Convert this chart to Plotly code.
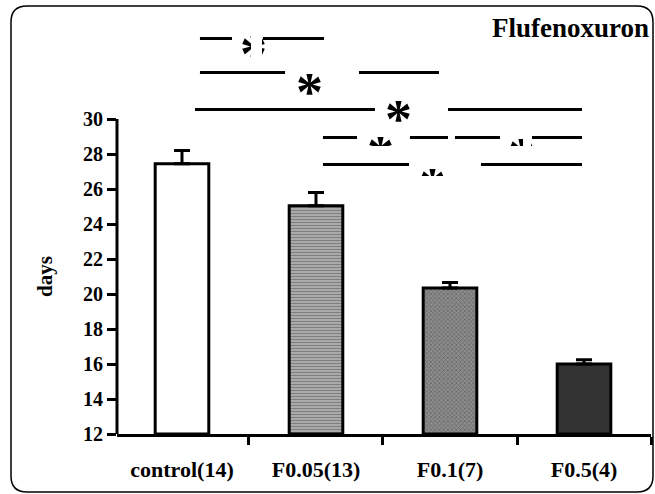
import plotly.graph_objects as go

categories = ["control(14)", "F0.05(13)", "F0.1(7)", "F0.5(4)"]
means = [27.45, 25.05, 20.35, 16.0]
sem = [0.75, 0.75, 0.3, 0.25]
y_ticks = [12, 14, 16, 18, 20, 22, 24, 26, 28, 30]
title_text = "Flufenoxuron"
y_title = "days"

# significance bracket segments: (y level, [(x_start, x_end), ...]) in category-index units
sig_lines = [
    (34.6, [(0.134, 0.373), (0.604, 1.06)]),
    (32.66, [(0.134, 0.769), (1.321, 1.918)]),
    (30.54, [(0.097, 1.44), (1.985, 2.985)]),
    (28.94, [(1.052, 1.306), (1.701, 1.985), (2.037, 2.373), (2.612, 2.985)]),
    (27.4, [(1.052, 1.694), (2.231, 2.985)]),
]
# asterisk marks (x index, y level of glyph centre)
stars = [(0.53, 34.11), (0.948, 31.94), (1.612, 30.4), (1.485, 28.34), (2.53, 28.23), (1.873, 26.51)]

FONT = "Liberation Serif"

fig = go.Figure()
fig.add_trace(go.Bar(
    x=categories, y=[m - 12 for m in means], base=12, width=0.40,
    marker=dict(
        color=["white", "#b8b8b8", "#8e8e8e", "#333333"],
        line=dict(color="black", width=3),
        pattern=dict(shape=["", "-", "x", ""],
                     fgcolor=["white", "#505050", "#3a3a3a", "#333333"],
                     size=[8, 3, 3, 8], solidity=[0.3, 0.5, 0.45, 0.3],
                     fillmode="overlay"),
    ),
    error_y=dict(type="data", symmetric=False, array=sem, arrayminus=[0] * len(sem),
                 color="black", thickness=3, width=8),
))

shapes = []
for yv, segs in sig_lines:
    for x0, x1 in segs:
        shapes.append(dict(type="line", xref="x", yref="y", x0=x0, x1=x1, y0=yv, y1=yv,
                           line=dict(color="black", width=3)))
# y axis line
shapes.append(dict(type="line", xref="paper", yref="y", x0=0, x1=0, y0=11.55, y1=30,
                   line=dict(color="black", width=3)))
# rounded frame
w, h = 534.0, 420.0
px = lambda p: (p - 117) / w
py = lambda p: (434 - p) / h
L, R, T, B, r = 11, 653, 6, 492, 16
path = (f"M {px(L + r)},{py(T)} L {px(R - r)},{py(T)} Q {px(R)},{py(T)} {px(R)},{py(T + r)} "
        f"L {px(R)},{py(B - r)} Q {px(R)},{py(B)} {px(R - r)},{py(B)} "
        f"L {px(L + r)},{py(B)} Q {px(L)},{py(B)} {px(L)},{py(B - r)} "
        f"L {px(L)},{py(T + r)} Q {px(L)},{py(T)} {px(L + r)},{py(T)} Z")
shapes.append(dict(type="path", xref="paper", yref="paper", path=path,
                   line=dict(color="black", width=1.5)))

annotations = []
for sx, sy in stars:
    annotations.append(dict(x=sx, y=sy, xref="x", yref="y", text="*", showarrow=False,
                            font=dict(family=FONT, size=54, color="black", weight="bold"),
                            xanchor="center", yanchor="middle", yshift=-7))
# white masks imitating the clipped asterisk text boxes of the original
masks = [(251, 35, 11, 26), (366, 146, 30, 15), (509, 146, 24, 16), (523, 136, 8, 12), (418, 176, 30, 20)]
for mx, my, mw, mh in masks:
    annotations.append(dict(x=px(mx), y=py(my), xref="paper", yref="paper", text=" ",
                            showarrow=False, xanchor="left", yanchor="top", width=mw, height=mh,
                            bgcolor="white", borderpad=0, borderwidth=0))
annotations.append(dict(x=1.0, y=py(28), xref="paper", yref="paper", text=title_text,
                        showarrow=False, xanchor="right", yanchor="middle",
                        font=dict(family=FONT, size=27, color="black", weight="bold")))
annotations.append(dict(x=px(45), y=py(277), xref="paper", yref="paper", text=y_title,
                        showarrow=False, textangle=-90, xanchor="center", yanchor="middle",
                        font=dict(family=FONT, size=21, color="black", weight="bold")))

fig.update_layout(
    width=655, height=494,
    margin=dict(l=117, r=4, t=14, b=60),
    plot_bgcolor="white", paper_bgcolor="white",
    showlegend=False,
    shapes=shapes, annotations=annotations,
    xaxis=dict(type="category", range=[-0.485, 3.5], showline=True, linewidth=3, linecolor="black",
               ticks="outside", tickson="boundaries", ticklen=8, tickwidth=3, tickcolor="black",
               showgrid=False, zeroline=False, ticklabelstandoff=14,
               tickfont=dict(family=FONT, size=22, color="black", weight="bold")),
    yaxis=dict(range=[12, 36], tickvals=y_ticks, ticks="outside", ticklen=9, tickwidth=3,
               tickcolor="black", showline=False, showgrid=False, zeroline=False,
               tickfont=dict(family=FONT, size=20, color="black", weight="bold")),
)
fig.write_html("out.html", config={"displayModeBar": False},
               post_script="document.body.style.margin='0';")
